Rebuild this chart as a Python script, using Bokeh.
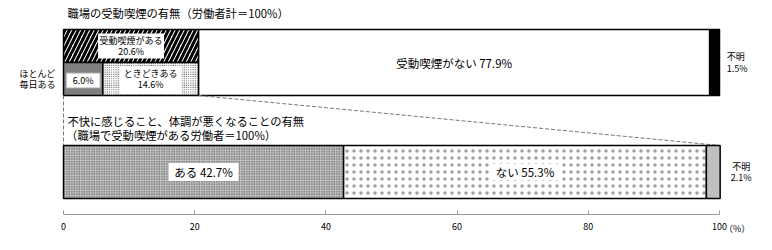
from bokeh.plotting import figure
from bokeh.models import Range1d, FixedTicker
from bokeh.core.properties import value
from bokeh.embed import file_html
from bokeh.resources import INLINE

# ---- data ----
top_categories = ["受動喫煙がある", "受動喫煙がない", "不明"]
top_values = [20.6, 77.9, 1.5]
daily_categories = ["ほとんど毎日ある", "ときどきある"]
daily_values = [6.0, 14.6]
bottom_categories = ["ある", "ない", "不明"]
bottom_values = [42.7, 55.3, 2.1]
tick_values = [0, 20, 40, 60, 80, 100]

FONT = value("Noto Sans CJK JP")
PX0, PXU = 63, 6.56  # pixel position of 0 and pixels per percent
FW, FH = 772, 250

p = figure(frame_width=FW, frame_height=FH,
           x_range=Range1d(-PX0 / PXU, (FW - PX0) / PXU),
           y_range=Range1d(FH, 0),
           output_backend="svg", toolbar_location=None,
           y_axis_location=None, min_border=0)
p.grid.visible = False
p.outline_line_color = None
p.background_fill_color = "white"
p.border_fill_color = "white"

# cumulative positions
t_edges = [0]
for v in top_values:
    t_edges.append(t_edges[-1] + v)
d_edges = [0]
for v in daily_values:
    d_edges.append(d_edges[-1] + v)
b_edges = [0]
for v in bottom_values:
    b_edges.append(b_edges[-1] + v)

TT, TM, TB = 29, 62, 95
BT, BB = 145, 198
AXIS_Y = 214
LW = 1.5

# top bar
p.quad(left=[t_edges[0]], right=[t_edges[1]], top=[TT], bottom=[TM], fill_color="white",
       hatch_pattern="/", hatch_color="black", hatch_scale=9, hatch_weight=3,
       line_color="black", line_width=LW)
p.quad(left=[d_edges[0]], right=[d_edges[1]], top=[TM], bottom=[TB], fill_color="#7f7f7f",
       line_color="black", line_width=LW)
p.quad(left=[d_edges[1]], right=[d_edges[2]], top=[TM], bottom=[TB], fill_color="white",
       hatch_pattern="dot", hatch_color="#333333", hatch_scale=2.2, hatch_weight=0.6,
       line_color="black", line_width=LW)
p.quad(left=[t_edges[1]], right=[t_edges[2]], top=[TT], bottom=[TB], fill_color="white",
       line_color="black", line_width=LW)
p.quad(left=[t_edges[2]], right=[t_edges[3]], top=[TT], bottom=[TB], fill_color="black",
       line_color="black", line_width=LW)

# connector lines
p.segment(x0=[d_edges[0], t_edges[1]], y0=[TB, TB], x1=[b_edges[0], b_edges[3]], y1=[BT, BT],
          line_color="#777777", line_dash="4 2", line_width=1)

# bottom bar
p.quad(left=[b_edges[0]], right=[b_edges[1]], top=[BT], bottom=[BB], fill_color="#c0c0c0",
       hatch_pattern="dot", hatch_color="#3a3a3a", hatch_scale=2.5, hatch_weight=1,
       line_color="black", line_width=LW)
p.quad(left=[b_edges[1]], right=[b_edges[2]], top=[BT], bottom=[BB], fill_color="white",
       hatch_pattern="dot", hatch_color="#a0a0a0", hatch_scale=7, hatch_weight=0.5,
       line_color="black", line_width=LW)
p.quad(left=[b_edges[2]], right=[b_edges[3]], top=[BT], bottom=[BB], fill_color="#c0c0c0",
       line_color="black", line_width=LW)

# white label boxes centred on segments (sizes in screen pixels)
def box(x, y, w, h, border=None):
    p.rect(x=[x], y=[y], width=[w], height=[h], width_units="screen", height_units="screen",
           fill_color="white", line_color=border, line_width=1)

def txt(x, y, s, size="9px", align="center", lh=0.85):
    p.text(x=[x], y=[y], text=[s], text_font=FONT, text_font_size=size,
           text_align=align, text_baseline="middle", text_color="black",
           text_line_height=lh)

# titles
txt(0.6, 12, "職場の受動喫煙の有無（労働者計＝100%）", size="11.3px", align="left")
txt(0.6, 120, "不快に感じること、体調が悪くなることの有無", size="11.3px", align="left")
txt(0.4, 134, "（職場で受動喫煙がある労働者＝100%）", size="11.3px", align="left")

# top labels
c_has = (t_edges[0] + t_edges[1]) / 2
c_daily = (d_edges[0] + d_edges[1]) / 2
c_some = (d_edges[1] + d_edges[2]) / 2
box(c_has, (TT + TM) / 2, 66, 25)
box(c_daily, (TM + TB) / 2 + 1.5, 34, 15, border="#aaaaaa")
box(c_some, (TM + TB) / 2 + 1.5, 62, 27)
txt(c_has, (TT + TM) / 2, f"{top_categories[0]}\n{top_values[0]}%")
txt(c_daily, (TM + TB) / 2 + 1.5, f"{daily_values[0]}%")
txt(c_some, (TM + TB) / 2, f"{daily_categories[1]}\n{daily_values[1]}%")
txt(-3.95, (TM + TB) / 2, "ほとんど\n毎日ある")
txt((t_edges[1] + t_edges[2]) / 2, (TT + TB) / 2, f"{top_categories[1]} {top_values[1]}%", size="11.5px")
txt(t_edges[3] + 1.1, (TT + TB) / 2, f"{top_categories[2]}\n{top_values[2]}%", align="left", lh=0.9)

# bottom labels
c_yes = (b_edges[0] + b_edges[1]) / 2
c_no = (b_edges[1] + b_edges[2]) / 2
box(c_yes, (BT + BB) / 2, 70, 18)
box(c_no, (BT + BB) / 2, 70, 16)
txt(c_yes, (BT + BB) / 2, f"{bottom_categories[0]} {bottom_values[0]}%", size="11.5px")
txt(c_no, (BT + BB) / 2, f"{bottom_categories[1]} {bottom_values[1]}%", size="11.5px")
txt(b_edges[3] + 3.2, (BT + BB) / 2, f"{bottom_categories[2]}\n{bottom_values[2]}%", lh=0.9)

# axis (drawn inside the frame at a fixed location)
ax = p.xaxis[0]
ax.fixed_location = AXIS_Y
ax.ticker = FixedTicker(ticks=tick_values)
ax.bounds = (tick_values[0], tick_values[-1])
ax.major_tick_in = 4
ax.major_tick_out = 0
ax.minor_tick_line_color = None
ax.axis_line_color = "#999999"
ax.major_tick_line_color = "#999999"
ax.major_label_text_font_size = "9px"
ax.major_label_text_font = "Noto Sans CJK JP"
ax.major_label_text_color = "black"
ax.major_label_standoff = 8

txt(tick_values[-1] + 2.7, 228, "（%）", align="center")

open("out.html", "w").write(file_html(p, INLINE))
